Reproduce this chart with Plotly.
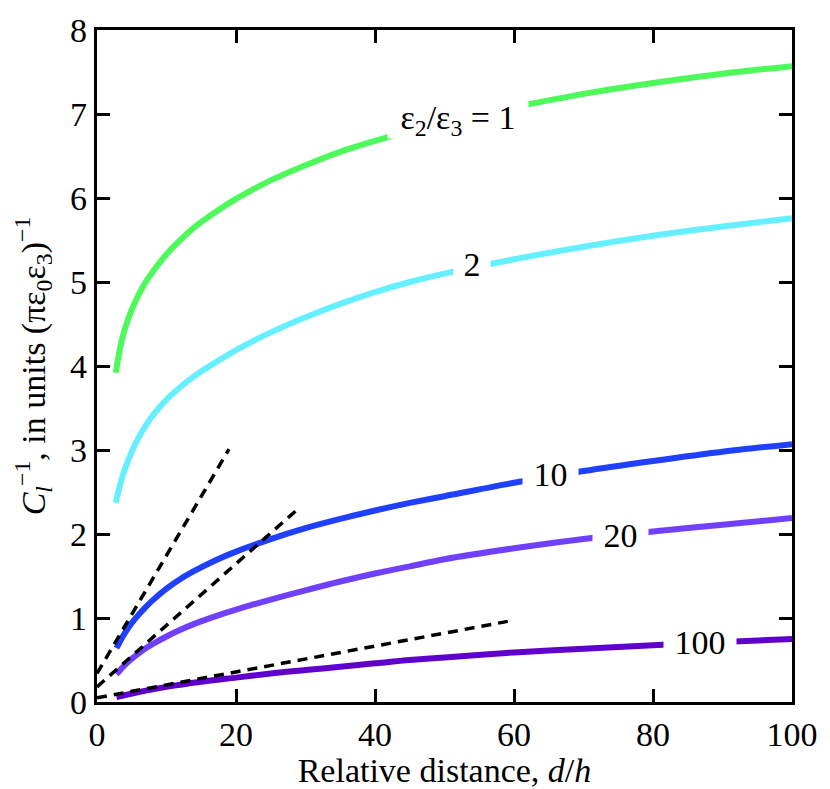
import plotly.graph_objects as go

# --- values ---
x_eps1 = [2.7, 3, 3.5, 4, 5, 6, 7, 8, 10, 12, 14, 17, 20, 25, 30, 35, 40, 45, 50, 60, 70, 80, 90, 100]
y_eps1 = [3.92, 4.07, 4.28, 4.44, 4.67, 4.85, 5.00, 5.12, 5.33, 5.50, 5.65, 5.83, 5.99, 6.21,
          6.39, 6.55, 6.68, 6.80, 6.90, 7.08, 7.24, 7.37, 7.48, 7.57]

x_eps2 = [2.7, 3, 3.5, 4, 5, 6, 7, 8, 10, 12, 14, 17, 20, 25, 30, 35, 40, 45, 50, 60, 70, 80, 90, 100]
y_eps2 = [2.37, 2.48, 2.64, 2.77, 2.98, 3.15, 3.29, 3.41, 3.60, 3.75, 3.88, 4.04, 4.19, 4.40,
          4.58, 4.74, 4.88, 5.00, 5.10, 5.27, 5.42, 5.55, 5.66, 5.76]

x_eps10 = [2.8, 3.5, 4, 5, 6, 7, 8, 10, 12, 14, 17, 20, 25, 30, 35, 40, 45, 50, 60, 70, 80, 90, 100]
y_eps10 = [0.64, 0.75, 0.82, 0.94, 1.04, 1.13, 1.21, 1.35, 1.465, 1.56, 1.685, 1.79, 1.94, 2.07,
           2.18, 2.28, 2.37, 2.45, 2.61, 2.75, 2.87, 2.98, 3.07]

x_eps20 = [2.8, 3.5, 4, 5, 6, 7, 8, 10, 12, 14, 17, 20, 25, 30, 35, 40, 45, 50, 60, 70, 80, 90, 100]
y_eps20 = [0.33, 0.395, 0.44, 0.515, 0.58, 0.64, 0.69, 0.78, 0.86, 0.93, 1.02, 1.10, 1.22, 1.33,
           1.435, 1.53, 1.615, 1.70, 1.83, 1.94, 2.03, 2.11, 2.19]

x_eps100 = [2.8, 5, 7, 10, 15, 20, 25, 30, 35, 40, 45, 50, 60, 70, 80, 90, 100]
y_eps100 = [0.06, 0.10, 0.135, 0.18, 0.24, 0.29, 0.34, 0.38, 0.42, 0.46, 0.50, 0.53, 0.59,
            0.635, 0.675, 0.715, 0.75]

# asymptotic (small d/h) straight lines
x_asym1 = [0, 19.0]
y_asym1 = [0.34, 3.01]
x_asym2 = [0, 28.8]
y_asym2 = [0.18, 2.29]
x_asym3 = [0, 59.1]
y_asym3 = [0.05, 0.96]

curves = [
    (x_eps1, y_eps1, "#4dfa5a"),
    (x_eps2, y_eps2, "#66f0ff"),
    (x_eps10, y_eps10, "#2040ff"),
    (x_eps20, y_eps20, "#7040ff"),
    (x_eps100, y_eps100, "#6000cc"),
]

# label text, position, width of the gap cut in the curve
labels = [
    ("ε<sub>2</sub>/ε<sub>3</sub> = 1", 52.0, 6.93, 140),
    ("2", 54.0, 5.22, 36),
    ("10", 65.3, 2.72, 55),
    ("20", 75.3, 1.99, 55),
    ("100", 86.7, 0.71, 72),
]

FONT = "Liberation Serif"
SIZE = 34

fig = go.Figure()

for xs, ys, color in curves:
    fig.add_trace(go.Scatter(
        x=xs, y=ys, mode="lines",
        line=dict(color=color, width=6, shape="spline", smoothing=0.8),
        hoverinfo="skip", showlegend=False,
    ))

for xs, ys in [(x_asym1, y_asym1), (x_asym2, y_asym2), (x_asym3, y_asym3)]:
    fig.add_trace(go.Scatter(
        x=xs, y=ys, mode="lines",
        line=dict(color="black", width=3.5, dash="10px,7px"),
        hoverinfo="skip", showlegend=False,
    ))

for text, lx, ly, w in labels:
    fig.add_annotation(
        x=lx, y=ly, text=text, showarrow=False,
        font=dict(family=FONT, size=SIZE, color="black"),
        bgcolor="white", width=w, height=36, borderpad=0,
    )

axis_common = dict(
    showline=True, linewidth=3.3, linecolor="black", mirror="ticks",
    ticks="inside", ticklen=13, tickwidth=3, tickcolor="black",
    showgrid=False, zeroline=False,
    tickfont=dict(family=FONT, size=SIZE, color="black"),
)

fig.update_xaxes(
    range=[0, 100], tick0=0, dtick=20,
    title=dict(text="Relative distance, <i>d</i>/<i>h</i>",
               font=dict(family=FONT, size=SIZE, color="black"), standoff=0),
    **axis_common,
)
fig.update_yaxes(
    range=[0, 8], tick0=0, dtick=1,
    title=dict(text="<i>C</i><sub><i>l</i></sub><sup>−1</sup>, in units (πε<sub>0</sub>ε<sub>3</sub>)<sup>−1</sup>",
               font=dict(family=FONT, size=SIZE, color="black"), standoff=15),
    **axis_common,
)

fig.update_layout(
    width=830, height=789,
    margin=dict(l=97, r=33, t=23, b=79),
    paper_bgcolor="white", plot_bgcolor="white",
    showlegend=False,
)

# drop the default 8px page margin so the figure fills the window exactly
fig.write_html("out.html", config={"displayModeBar": False},
               post_script="document.body.style.margin='0';")
